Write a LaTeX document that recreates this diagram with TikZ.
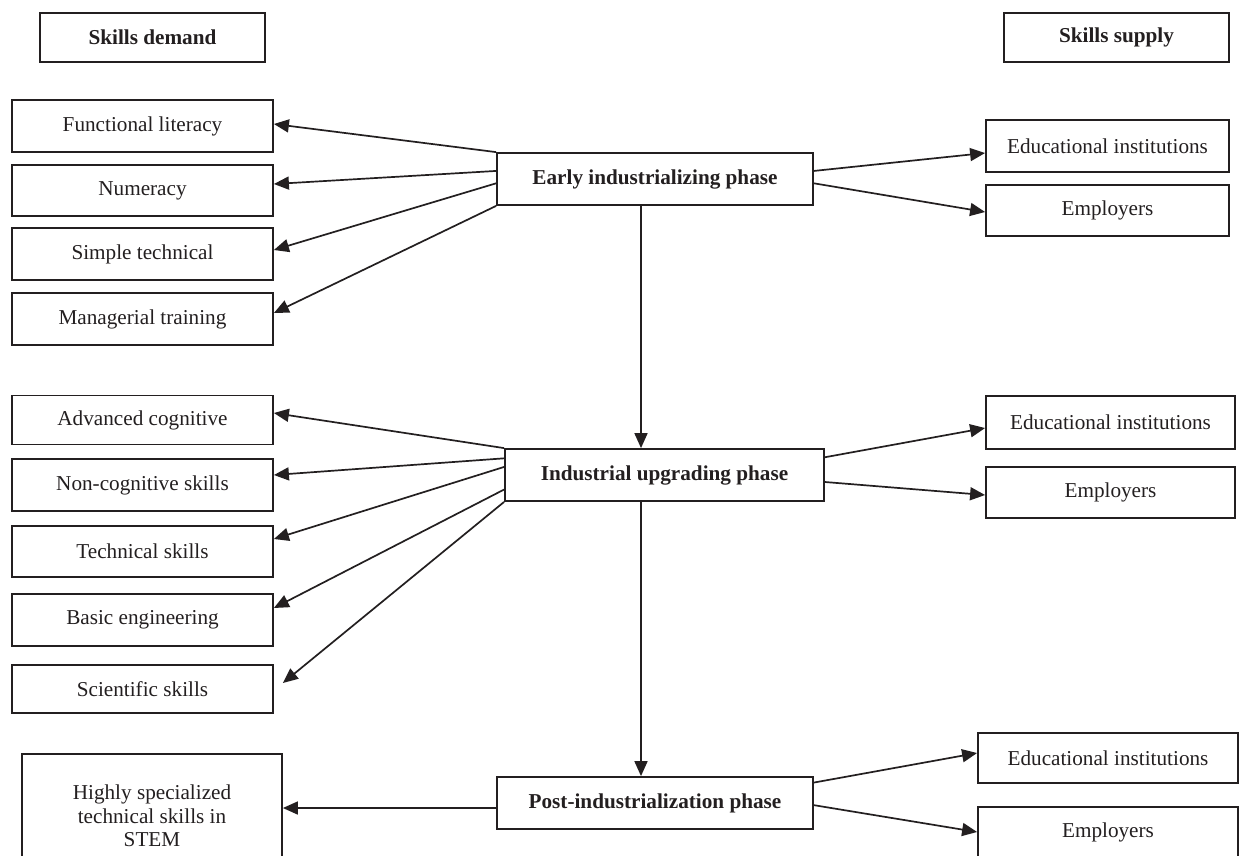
\documentclass[tikz,border=0pt]{standalone}
\usepackage{fontspec}
\setmainfont{Liberation Serif}
\usetikzlibrary{arrows.meta,calc}
\definecolor{ink}{RGB}{35,31,32}
\begin{document}
\begin{tikzpicture}[x=1pt,y=-1pt,
  box/.style={draw=ink,line width=1.8pt,inner sep=0pt,text=ink,align=center,
    font=\fontsize{21.2}{23.5}\selectfont},
  bbox/.style={box,font=\fontsize{21.2}{23.5}\selectfont\bfseries},
  arr/.style={draw=ink,line width=1.7pt,-{Triangle[length=15pt,width=13pt]}}]
\useasboundingbox (0,0) rectangle (1247,855);
\fill[white] (0,0) rectangle (1247,855);
\clip (0,0) rectangle (1247,855);
% headers
\node[bbox,minimum width=225,minimum height=49] (demand) at (152.5,37.5) {Skills demand};
\node[bbox,minimum width=225,minimum height=49] (supply) at (1116.5,37.5) {Skills supply};
% phase boxes
\node[bbox,minimum width=316,minimum height=52] (early) at (655,179) {Early industrializing phase};
\node[bbox,minimum width=319,minimum height=52] (ind) at (664.5,475) {Industrial upgrading phase};
\node[bbox,minimum width=316,minimum height=52] (post) at (655,803) {Post-industrialization phase};
% left column 1
\node[box,minimum width=261,minimum height=52] (fl) at (142.5,126) {Functional literacy};
\node[box,minimum width=261,minimum height=51] (num) at (142.5,190.5) {Numeracy};
\node[box,minimum width=261,minimum height=52] (simp) at (142.5,254) {Simple technical};
\node[box,minimum width=261,minimum height=52] (man) at (142.5,319) {Managerial training};
% left column 2
\node[box,minimum width=261,minimum height=49] (adv) at (142.5,420) {Advanced cognitive};
\node[box,minimum width=261,minimum height=52] (noncog) at (142.5,485) {Non-cognitive skills};
\node[box,minimum width=261,minimum height=51] (tech) at (142.5,551.5) {Technical skills};
\node[box,minimum width=261,minimum height=52] (basic) at (142.5,620) {Basic engineering};
\node[box,minimum width=261,minimum height=48] (sci) at (142.5,689) {Scientific skills};
% left bottom
\node[box,minimum width=260,minimum height=124] (high) at (152,816) {Highly specialized\\technical skills in\\STEM};
% right column
\node[box,minimum width=243,minimum height=52] (edu1) at (1107.5,146) {Educational institutions};
\node[box,minimum width=243,minimum height=51] (emp1) at (1107.5,210.5) {Employers};
\node[box,minimum width=249,minimum height=53] (edu2) at (1110.5,422.5) {Educational institutions};
\node[box,minimum width=249,minimum height=51] (emp2) at (1110.5,492.5) {Employers};
\node[box,minimum width=260,minimum height=50] (edu3) at (1108,758) {Educational institutions};
\node[box,minimum width=260,minimum height=50] (emp3) at (1108,832) {Employers};
% vertical connectors
\coordinate (vx) at (641,0);
\draw[arr] (early.south -| vx) -- (ind.north -| vx);
\draw[arr] (ind.south -| vx) -- (post.north -| vx);
% early left
\draw[arr] (early.north west) -- ([yshift=2pt]fl.east);
\draw[arr] ($(early.north west)!0.35!(early.south west)$) -- ([yshift=6.5pt]num.east);
\draw[arr] ($(early.north west)!0.58!(early.south west)$) -- ([yshift=4pt]simp.east);
\draw[arr] (early.south west) -- ([yshift=6pt]man.east);
% early right
\draw[arr] ($(early.north east)!0.35!(early.south east)$) -- ([yshift=-7pt]edu1.west);
\draw[arr] ($(early.north east)!0.58!(early.south east)$) -- ([yshift=-1.5pt]emp1.west);
% industrial left
\draw[arr] (ind.north west) -- ([yshift=7pt]adv.east);
\draw[arr] ($(ind.north west)!0.19!(ind.south west)$) -- ([yshift=10pt]noncog.east);
\draw[arr] ($(ind.north west)!0.35!(ind.south west)$) -- ([yshift=12.5pt]tech.east);
\draw[arr] ($(ind.north west)!0.77!(ind.south west)$) -- ([yshift=12pt]basic.east);
\coordinate (scitip) at ([xshift=9pt,yshift=6pt]sci.east);
\draw[arr] (ind.south west) -- (scitip);
% industrial right
\draw[arr] ($(ind.north east)!0.17!(ind.south east)$) -- ([yshift=-5.5pt]edu2.west);
\draw[arr] ($(ind.north east)!0.63!(ind.south east)$) -- ([yshift=-2.5pt]emp2.west);
% post
\draw[arr] ([yshift=-5pt]post.west) -- ([yshift=-5pt]post.west -| high.east);
\draw[arr] ($(post.north east)!0.12!(post.south east)$) -- ([yshift=5pt]edu3.west);
\draw[arr] ($(post.north east)!0.54!(post.south east)$) -- (emp3.west);
\end{tikzpicture}
\end{document}
